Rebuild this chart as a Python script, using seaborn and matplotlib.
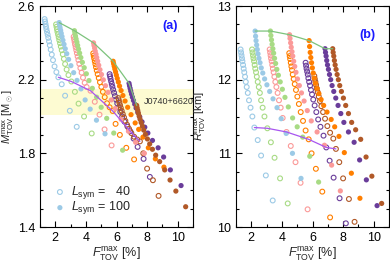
import matplotlib
matplotlib.use("Agg")
import matplotlib.pyplot as plt
import seaborn as sns
import numpy as np

sns.set_theme(style="ticks")
plt.rcParams['font.family'] = ['Liberation Sans', 'DejaVu Sans']
plt.rcParams['mathtext.fontset'] = 'custom'
plt.rcParams['mathtext.rm'] = 'Liberation Sans'
plt.rcParams['mathtext.it'] = 'Liberation Sans:italic'
plt.rcParams['mathtext.bf'] = 'Liberation Sans:bold'

# ---------------- data ----------------
colors = ['#9ccae6', '#a8db85', '#fb9a99', '#ff7f00', '#6a3d9a', '#b15928']

# open circles: L_sym = 40
F_open = [
    [1.30,1.33,1.36,1.39,1.42,1.46,1.50,1.54,1.59,1.64,1.70,1.77,1.85,1.95,2.07,2.20,2.42,2.64,2.95,3.40],
    [2.05,2.08,2.11,2.14,2.18,2.22,2.26,2.31,2.36,2.42,2.49,2.56,2.64,2.74,2.86,3.05,3.28,3.52,3.88,4.38],
    [3.20,3.23,3.26,3.29,3.33,3.37,3.41,3.46,3.51,3.57,3.64,3.72,3.81,3.92,4.05,4.30,4.58,4.89,5.22,5.68],
    [4.48,4.51,4.54,4.58,4.62,4.66,4.71,4.77,4.84,4.92,5.01,5.11,5.23,5.38,5.55,5.75,5.94,6.22,6.64,7.15],
    [5.55,5.58,5.61,5.65,5.69,5.73,5.78,5.84,5.90,5.97,6.05,6.14,6.25,6.37,6.52,6.72,6.90,7.12,7.38,7.77,8.18],
    [6.12,6.15,6.19,6.23,6.28,6.34,6.41,6.49,6.58,6.69,6.82,6.97,7.15,7.36,7.53,7.75,8.00,8.38,8.75],
]
M_open = [
    [2.529,2.516,2.502,2.488,2.474,2.459,2.444,2.427,2.408,2.387,2.363,2.336,2.306,2.272,2.241,2.213,2.175,2.113,2.031,1.944],
    [2.500,2.487,2.474,2.460,2.446,2.431,2.415,2.398,2.380,2.360,2.338,2.313,2.285,2.255,2.225,2.190,2.134,2.070,2.000,1.908],
    [2.433,2.420,2.406,2.392,2.377,2.361,2.344,2.326,2.307,2.286,2.263,2.238,2.211,2.183,2.160,2.140,2.080,2.010,1.930,1.843],
    [2.343,2.330,2.316,2.301,2.285,2.268,2.250,2.230,2.209,2.186,2.161,2.134,2.105,2.072,2.050,2.030,1.960,1.900,1.830,1.767],
    [2.230,2.218,2.205,2.191,2.177,2.162,2.146,2.129,2.111,2.092,2.071,2.049,2.025,2.000,1.972,1.945,1.920,1.880,1.835,1.770,1.672],
    [2.100,2.088,2.075,2.061,2.046,2.030,2.013,1.995,1.976,1.955,1.933,1.910,1.890,1.875,1.865,1.800,1.717,1.654,1.569],
]
R_open = [
    [12.41,12.37,12.33,12.29,12.25,12.20,12.15,12.10,12.04,11.97,11.90,11.82,11.72,11.62,11.50,11.35,11.18,10.97,10.70,10.36],
    [12.41,12.37,12.33,12.29,12.25,12.20,12.15,12.10,12.04,11.97,11.90,11.82,11.72,11.62,11.50,11.34,11.15,10.94,10.66,10.32],
    [12.41,12.37,12.33,12.29,12.25,12.20,12.15,12.10,12.04,11.97,11.90,11.82,11.72,11.62,11.48,11.29,11.10,10.88,10.60,10.24],
    [12.36,12.32,12.28,12.23,12.18,12.13,12.07,12.01,11.94,11.86,11.77,11.67,11.56,11.44,11.31,11.19,11.00,10.79,10.48,10.13],
    [12.23,12.19,12.15,12.11,12.07,12.02,11.97,11.92,11.86,11.80,11.73,11.65,11.56,11.46,11.36,11.24,11.08,10.90,10.67,10.39,10.05],
    [12.05,12.01,11.97,11.93,11.88,11.83,11.77,11.71,11.64,11.56,11.47,11.37,11.28,11.20,11.06,10.88,10.66,10.38,10.07],
]

# filled circles: L_sym = 100
F_fill = [
    [2.25,2.28,2.31,2.35,2.39,2.44,2.50,2.57,2.65,2.75,2.87,3.02,3.20,3.42,3.68,3.95,4.28,4.69,5.25],
    [3.25,3.28,3.32,3.36,3.41,3.46,3.52,3.59,3.67,3.77,3.89,4.03,4.20,4.42,4.70,5.00,5.36,5.82,6.40],
    [4.50,4.53,4.57,4.61,4.66,4.71,4.77,4.84,4.92,5.02,5.14,5.28,5.45,5.66,5.92,6.30,6.78,7.25,7.82],
    [5.78,5.81,5.85,5.89,5.94,5.99,6.05,6.12,6.20,6.30,6.42,6.56,6.73,6.95,7.22,7.45,7.73,8.08,8.54,9.10],
    [6.82,6.85,6.89,6.93,6.98,7.04,7.11,7.19,7.28,7.39,7.52,7.67,7.85,8.05,8.35,8.72,9.08,9.52,10.22],
    [7.32,7.35,7.39,7.43,7.48,7.54,7.61,7.69,7.78,7.89,8.02,8.17,8.35,8.56,8.82,9.15,9.50,9.88,10.52],
]
M_fill = [
    [2.510,2.497,2.483,2.468,2.452,2.434,2.414,2.392,2.368,2.341,2.310,2.276,2.238,2.196,2.150,2.090,2.040,1.980,1.906],
    [2.466,2.452,2.437,2.421,2.404,2.386,2.366,2.344,2.320,2.294,2.265,2.232,2.195,2.153,2.105,2.050,1.990,1.910,1.817],
    [2.400,2.386,2.371,2.355,2.338,2.320,2.300,2.278,2.254,2.228,2.199,2.167,2.131,2.090,2.043,1.985,1.920,1.860,1.800],
    [2.300,2.287,2.273,2.258,2.242,2.225,2.207,2.187,2.165,2.141,2.114,2.084,2.050,2.010,1.965,1.930,1.888,1.830,1.770,1.725],
    [2.180,2.167,2.153,2.138,2.122,2.105,2.087,2.067,2.046,2.023,1.998,1.971,1.942,1.910,1.870,1.830,1.780,1.710,1.625],
    [2.060,2.047,2.033,2.018,2.002,1.985,1.967,1.947,1.926,1.903,1.878,1.851,1.822,1.790,1.755,1.710,1.655,1.595,1.510],
]
R_fill = [
    [12.66,12.59,12.53,12.47,12.41,12.35,12.29,12.23,12.16,12.09,12.01,11.93,11.84,11.74,11.62,11.47,11.27,11.00,10.66],
    [12.66,12.60,12.54,12.48,12.42,12.36,12.29,12.22,12.14,12.06,11.97,11.87,11.76,11.63,11.48,11.36,11.22,10.96,10.61],
    [12.61,12.56,12.50,12.44,12.38,12.32,12.25,12.18,12.10,12.01,11.92,11.82,11.71,11.58,11.44,11.29,11.11,10.84,10.49],
    [12.53,12.45,12.37,12.30,12.23,12.16,12.09,12.02,11.95,11.88,11.81,11.73,11.65,11.56,11.46,11.36,11.23,11.01,10.73,10.39],
    [12.42,12.37,12.32,12.26,12.20,12.14,12.07,12.00,11.92,11.84,11.75,11.65,11.54,11.42,11.29,11.15,10.91,10.64,10.29],
    [12.42,12.37,12.32,12.26,12.20,12.14,12.07,12.00,11.92,11.84,11.75,11.65,11.54,11.42,11.32,11.19,10.95,10.69,10.32],
]

# violet line through one point of each open series
line_F = [2.20, 3.05, 4.30, 5.75, 6.90, 7.53]
line_M = [2.213, 2.190, 2.140, 2.030, 1.920, 1.865]
line_R = [11.35, 11.34, 11.29, 11.19, 11.08, 11.06]

band = (2.01, 2.15)
Lsym_labels = ['40', '100']

# ---------------- figure ----------------
fig = plt.figure(figsize=(3.9, 2.64), dpi=100)
axA = fig.add_axes([40/390, 37/264, 153/390, 221/264])
axB = fig.add_axes([236/390, 37/264, 153/390, 221/264])

S_OPEN, S_FILL = 12, 14

def draw(ax, Y_open, Y_fill, lineY):
    for c, f, y in zip(colors, F_open, Y_open):
        sns.scatterplot(x=f, y=y, ax=ax, color=c, facecolors='none', edgecolor=c,
                        linewidth=0.8, s=S_OPEN, zorder=3, legend=False)
    for c, f, y in zip(colors, F_fill, Y_fill):
        sns.scatterplot(x=f, y=y, ax=ax, color=c, edgecolor='none',
                        linewidth=0, s=S_FILL, zorder=3, legend=False)
    sns.lineplot(x=[f[0] for f in F_fill], y=[y[0] for y in Y_fill], ax=ax,
                 color='#7cc37c', lw=0.9, sort=False, zorder=4, legend=False)
    sns.lineplot(x=line_F, y=lineY, ax=ax, color='#a855f0', lw=0.9, sort=False,
                 zorder=4, legend=False)

draw(axA, M_open, M_fill, line_M)
draw(axB, R_open, R_fill, line_R)

axA.axhspan(band[0], band[1], color='#fdfbd2', zorder=0, lw=0)
axA.text(9.4, 2.08, 'J0740+6620', fontsize=6.5, ha='center', va='center', color='#333333')

for ax in (axA, axB):
    ax.set_xlim(1, 11)
    ax.set_xticks([2, 4, 6, 8, 10])
    ax.set_xticks(np.arange(1, 11.5, 1), minor=True)
    ax.tick_params(which='both', direction='in', top=True, right=True,
                   labelsize=9, colors='black', width=0.8)
    ax.tick_params(which='major', length=4)
    ax.tick_params(which='minor', length=2.2)
    for s in ax.spines.values():
        s.set_linewidth(0.8)
        s.set_color('black')
    ax.set_xlabel(r'$F_{\rm TOV}^{\rm max}$ [%]', fontsize=9, labelpad=1)

axA.set_ylim(1.4, 2.6)
axA.set_yticks([1.4, 1.8, 2.2, 2.6])
axA.set_yticks(np.arange(1.4, 2.61, 0.1), minor=True)
axA.set_ylabel(r'$M_{\rm TOV}^{\rm max}$ [M$_\odot$]', fontsize=8)
axA.yaxis.set_label_coords(-0.155, 0.5)

axB.set_ylim(10, 13)
axB.set_yticks([10, 11, 12, 13])
axB.set_yticks(np.arange(10, 13.01, 0.25), minor=True)
axB.set_ylabel(r'$R_{\rm TOV}^{\rm max}$ [km]', fontsize=8)
axB.yaxis.set_label_coords(-0.185, 0.5)

axA.text(9.5, 2.49, '(a)', color='#1a1aff', fontsize=9, fontweight='bold', ha='center', va='center')
axB.text(9.6, 12.6, '(b)', color='#1a1aff', fontsize=9, fontweight='bold', ha='center', va='center')

# legend-like labels
sns.scatterplot(x=[2.3], y=[1.59], ax=axA, color=colors[0], facecolors='none',
                edgecolor=colors[0], linewidth=0.8, s=S_OPEN, legend=False)
sns.scatterplot(x=[2.3], y=[1.505], ax=axA, color=colors[0], edgecolor='none', s=S_FILL, legend=False)
axA.text(3.05, 1.59, r'$L_{\rm sym}$ =   ' + Lsym_labels[0], fontsize=9, va='center')
axA.text(3.05, 1.505, r'$L_{\rm sym}$ = ' + Lsym_labels[1], fontsize=9, va='center')

fig.savefig('out.png', dpi=100)
